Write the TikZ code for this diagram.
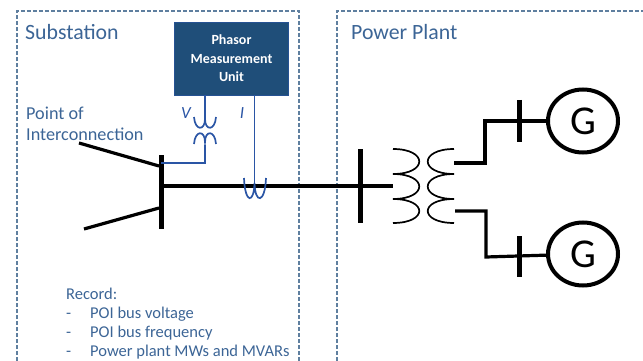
\documentclass[tikz,border=0pt]{standalone}
\usepackage{fontspec}
\setmainfont{Carlito}
\definecolor{pmublue}{HTML}{1F4E79}
\definecolor{ctblue}{HTML}{2A55A5}
\definecolor{txtblue}{HTML}{3C6596}
\definecolor{boxdash}{HTML}{5F7F9F}
\tikzstyle{area} = [draw=boxdash, line width=1.3pt, dash pattern=on 4pt off 2pt]
\tikzstyle{label} = [text=txtblue, inner sep=0pt, anchor=west]
\tikzstyle{item} = [text=txtblue, inner sep=0pt, anchor=base west, font=\fontsize{16.5}{16.5}\selectfont]
\tikzstyle{bus} = [line width=5pt]
\tikzstyle{wire} = [line width=3.2pt]
\tikzstyle{sense} = [draw=ctblue, line width=1.1pt]
\tikzstyle{coil} = [line width=1.7pt]
\tikzstyle{gen} = [draw, ellipse, line width=4pt, minimum width=70pt, minimum height=63pt, inner sep=0pt, font=\fontsize{41}{41}\selectfont]
\usetikzlibrary{shapes.geometric}

\begin{document}
\begin{tikzpicture}[x=1pt,y=-1pt]
    \useasboundingbox (0,0) rectangle (643,361);
    % dashed areas
    \draw [area] (17,361) -- (17,11) -- (299,11) -- (299,361);
    \draw [area] (337,361) -- (337,11) -- (643,11);
    \node [label, font=\fontsize{21.8}{22}\selectfont] (sub) at (25,32) {Substation};
    \node [label, font=\fontsize{21.8}{22}\selectfont] (plant) at (351,32) {Power Plant};
    \node [label, font=\fontsize{18.2}{18}\selectfont] (poi1) at (26,113) {Point of};
    \node [label, font=\fontsize{18.2}{18}\selectfont] (poi2) at (26,134) {Interconnection};
    % PMU
    \node [draw=ctblue!60!pmublue, fill=pmublue, text=white, minimum width=114pt, minimum height=73pt, inner sep=0pt, align=center, font=\fontsize{14}{18.5}\selectfont\bfseries] (pmu) at (231.5,58.5) {Phasor\\Measurement\\Unit};
    % buses
    \coordinate (b1t) at (161,155);
    \coordinate (b1b) at (161,229);
    \coordinate (b2t) at (360,149);
    \coordinate (b2b) at (360,223);
    \draw [bus] (b1t) -- (b1b);
    \draw [bus] (b2t) -- (b2b);
    \coordinate (l1) at (79,143);
    \coordinate (l1e) at (159,166);
    \coordinate (l2) at (84,229);
    \coordinate (l2e) at (159,208);
    \draw [wire] (l1) -- (l1e);
    \draw [wire] (l2) -- (l2e);
    \coordinate (m1) at (161,186);
    \coordinate (m2) at (393,186);
    \draw [wire] (m1) -- (m2);
    % transformer
    \coordinate (tl) at (393,149);
    \coordinate (tr) at (454,149);
    \draw [coil] (tl) .. controls (428,149) and (428,174) .. (393,174) .. controls (428,174) and (428,199) .. (393,199) .. controls (428,199) and (428,223) .. (393,223);
    \draw [coil] (tr) .. controls (419,149) and (419,174) .. (454,174) .. controls (419,174) and (419,199) .. (454,199) .. controls (419,199) and (419,223) .. (454,223);
    % generators
    \node [gen] (g1) at (583,121) {G};
    \node [gen] (g2) at (583,254) {G};
    \coordinate (t1) at (454,163);
    \coordinate (t2) at (455,211);
    \draw [wire] (t1) -- (485,163) -- (485,121) -- (g1);
    \draw [wire] (t2) -- (486,211) -- (486,257) -- (g2);
    \draw [bus] (519,100) -- (519,142);
    \draw [bus] (519,236) -- (519,277);
    % measurement
    \coordinate (vt1) at (205,118);
    \coordinate (vt2) at (205,145);
    \coordinate (vtb) at (161,163);
    \draw [sense] (pmu.south -| vt1) -- (vt1);
    \draw [sense] (vt2) -- (205,163) -- (vtb);
    \draw [sense, coil] (194,117) .. controls (195,131) and (205,131) .. (205,119) .. controls (205,131) and (215,131) .. (216,117);
    \draw [sense, coil] (194,144) .. controls (195,130) and (205,130) .. (205,142) .. controls (205,130) and (215,130) .. (216,144);
    \coordinate (ct) at (254.5,183);
    \draw [sense] (pmu.south -| ct) -- (ct);
    \draw [sense, coil] (244,178) .. controls (245,204) and (254,204) .. (254.5,183) .. controls (255,204) and (265,204) .. (266,178);
    \node [text=ctblue, inner sep=0pt, font=\fontsize{17}{17}\selectfont\itshape] (v) at (186,113) {V};
    \node [text=ctblue, inner sep=0pt, font=\fontsize{17}{17}\selectfont\itshape] (i) at (242,113) {I};
    % record list
    \node [item] (rec) at (66,299.5) {Record:};
    \node [item] (d1) at (66,318.5) {-};
    \node [item] (d2) at (66,337) {-};
    \node [item] (d3) at (66,356) {-};
    \node [item] (r1) at (90,318.5) {POI bus voltage};
    \node [item] (r2) at (90,337) {POI bus frequency};
    \node [item] (r3) at (90,356) {Power plant MWs and MVARs};
\end{tikzpicture}
\end{document}
